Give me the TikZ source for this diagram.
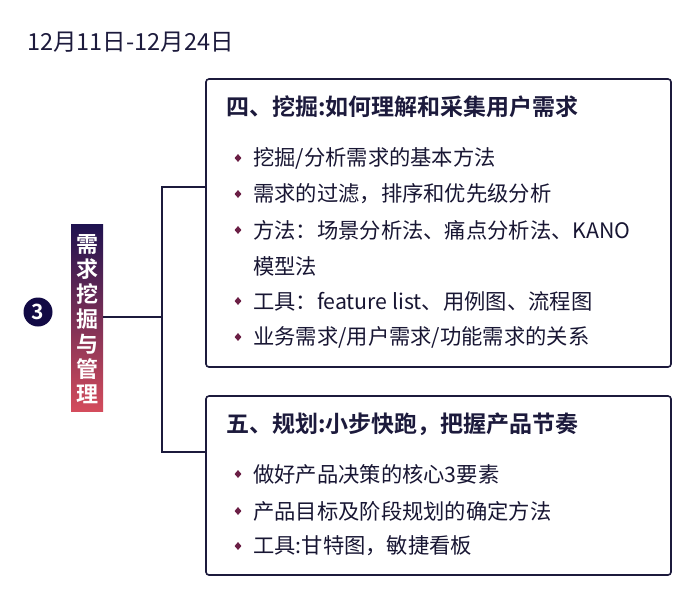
\documentclass[tikz,border=0pt]{standalone}
\usepackage{fontspec}
\setmainfont{Noto Sans CJK SC}[BoldFont={Noto Sans CJK SC Bold}]
\usetikzlibrary{shapes.geometric}
\definecolor{navy}{HTML}{1C1A3C}
\definecolor{circ}{HTML}{120A45}
\definecolor{bul}{HTML}{6B1F45}
\definecolor{gtop}{HTML}{1E1250}
\definecolor{gbot}{HTML}{D44C5C}
\tikzset{
  box/.style={draw=navy,line width=1.6pt,rounded corners=3pt},
  conn/.style={draw=navy,line width=1.6pt},
  title/.style={anchor=west,text=navy,font=\fontsize{23}{27}\selectfont\bfseries,inner sep=0pt},
  item/.style={anchor=west,text=navy!85!black,font=\fontsize{21.3}{25}\selectfont,inner sep=0pt},
  bullet/.style={diamond,fill=bul,inner sep=0pt,minimum width=7pt,minimum height=8pt}
}
\begin{document}
\begin{tikzpicture}[x=1pt,y=-1pt]
\useasboundingbox[fill=white] (0,0) rectangle (700,598);
% date
\node[anchor=west,text=navy,font=\fontsize{23.5}{27}\selectfont,inner sep=0pt] (date) at (27,42) {12月11日-12月24日};
% number circle
\node[circle,fill=circ,minimum size=29pt,inner sep=0pt,text=white,font=\fontsize{21}{22}\selectfont\bfseries] (num) at (38,312) {3};
% gradient bar
\shade[top color=gtop,bottom color=gbot] (71,224) rectangle (103,411);
\coordinate (barR) at (103,317);
\node[text=white,font=\fontsize{22}{25}\selectfont\bfseries,align=center,inner sep=0pt] (bar) at (87,319) {需\\求\\挖\\掘\\与\\管\\理};
% boxes
\draw[box] (206,79) rectangle (671,367);
\draw[box] (206,396) rectangle (671,575);
\coordinate (b1) at (206,187);
\coordinate (b2) at (206,452);
\coordinate (j) at (162,317);
\coordinate (jt) at (162,187);
\coordinate (jb) at (162,452);
\draw[conn] (barR) -- (j);
\draw[conn] (b1) -- (jt) -- (jb) -- (b2);
% box 1
\node[title] (t1) at (226,107) {四、挖掘:如何理解和采集用户需求};
\foreach \y/\t [count=\i] in {158/{挖掘/分析需求的基本方法},194/{需求的过滤，排序和优先级分析},230/{方法：场景分析法、痛点分析法、KANO},301/{工具：feature list、用例图、流程图},337/{业务需求/用户需求/功能需求的关系}}{
  \node[bullet] (d\i) at (238,\y) {};
  \node[item] (i\i) at (253,\y) {\t};
}
\node[item] (i6) at (253,266) {模型法};
% box 2
\node[title] (t2) at (226,424) {五、规划:小步快跑，把握产品节奏};
\foreach \y/\t [count=\i] in {474/{做好产品决策的核心3要素},511/{产品目标及阶段规划的确定方法},546/{工具:甘特图，敏捷看板}}{
  \node[bullet] (e\i) at (238,\y) {};
  \node[item] (k\i) at (253,\y) {\t};
}
\end{tikzpicture}
\end{document}
